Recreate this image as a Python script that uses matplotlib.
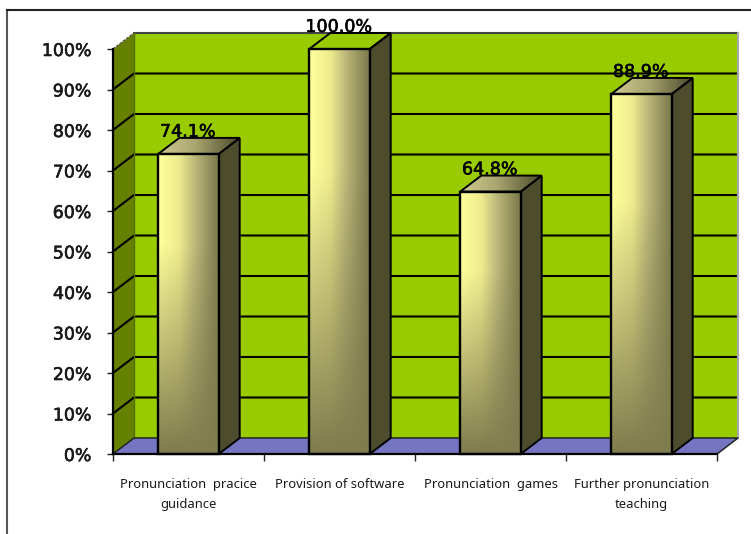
import numpy as np
import matplotlib
matplotlib.use("Agg")
import matplotlib.pyplot as plt
import matplotlib.patheffects as pe
from matplotlib.lines import Line2D
from matplotlib.patches import Polygon
from matplotlib.colors import to_rgb

categories = ["Pronunciation  pracice\nguidance", "Provision of software",
              "Pronunciation  games", "Further pronunciation\nteaching"]
values = [74.1, 100.0, 64.8, 88.9]
y_ticks = [0, 10, 20, 30, 40, 50, 60, 70, 80, 90, 100]

W, H = 751, 534
# depth of the fake 3d box, in data units (21 px across, 16 px up)
DX = 21 / 151
DY = 16 / 4.05
BAR_W = 0.4
BOLDISH = [pe.withStroke(linewidth=0.4, foreground="#111111")]


def h_ramp(stops, colors, n=100):
    u = np.linspace(0, 1, n)
    rgb = np.array([to_rgb(c) for c in colors])
    return np.stack([np.interp(u, stops, rgb[:, k]) for k in range(3)], axis=-1)


def front_face(n=100):
    # pale band on the left, fading to flat olive towards the bottom
    top = h_ramp([0, 0.35, 0.6, 1], ["#ffff9c", "#eeeb8e", "#bdb97a", "#7a774c"], n)
    base = np.array(to_rgb("#7f7c4e"))
    v = np.linspace(0, 1, n)
    w = np.clip((1 - v) / 0.7, 0, 1)[:, None, None]
    return top[None, :, :] * w + base[None, None, :] * (1 - w)


def draw_bar(ax, x0, val):
    x1 = x0 + BAR_W
    ax.imshow(front_face(), extent=(x0, x1, 0, val), aspect="auto", origin="upper", zorder=5,
              interpolation="bilinear")
    ax.add_patch(Polygon([(x0, 0), (x1, 0), (x1, val), (x0, val)], closed=True, fc="none", ec="black",
                         lw=1.7, zorder=6, clip_on=False))

    # side face
    ax.add_patch(Polygon([(x1, 0), (x1 + DX, DY), (x1 + DX, val + DY), (x1, val)], closed=True,
                         fc="#4d4d2e", ec="black", lw=1.4, zorder=4, clip_on=False))

    # top cap, gradient clipped to the parallelogram
    cap_pts = [(x0, val), (x1, val), (x1 + DX, val + DY), (x0 + DX, val + DY)]
    ramp = h_ramp([0, 0.45, 1], ["#cfcb90", "#aaa670", "#4a4a2c"])[None, :, :]
    cap = ax.imshow(ramp, extent=(x0, x1 + DX, val, val + DY), aspect="auto", origin="upper",
                    zorder=5, interpolation="bilinear")
    cap.set_clip_box(None)
    cap.set_clip_path(Polygon(cap_pts, closed=True, transform=ax.transData))
    ax.add_patch(Polygon(cap_pts, closed=True, fc="none", ec="black", lw=1.4, zorder=6, clip_on=False))


fig = plt.figure(figsize=(W / 100, H / 100), dpi=100, facecolor="white")
ax = fig.add_axes([113 / W, 1 - 454 / H, (717 - 113) / W, (454 - 49) / H])
ax.patch.set_visible(False)
for s in ax.spines.values():
    s.set_visible(False)

n = len(categories)

# walls and floor
ax.add_patch(Polygon([(DX, DY), (n + DX, DY), (n + DX, 100 + DY), (DX, 100 + DY)], closed=True,
                     fc="#99cc00", ec="none", zorder=1, clip_on=False))
ax.add_patch(Polygon([(0, 0), (DX, DY), (DX, 100 + DY), (0, 100)], closed=True,
                     fc="#668000", ec="none", zorder=1, clip_on=False))
ax.add_patch(Polygon([(0, 0), (n, 0), (n + DX, DY), (DX, DY)], closed=True,
                     fc="#7575c2", ec="none", zorder=2, clip_on=False))

# gridlines run along the side wall and then the back wall
for t in y_ticks[1:-1]:
    ax.plot([0, DX, n + DX], [t, t + DY, t + DY], color="black", lw=1.5, zorder=2, clip_on=False,
            solid_joinstyle="miter")
ax.plot([DX, n + DX], [100 + DY, 100 + DY], color="#444444", lw=1.5, zorder=2, clip_on=False)
ax.plot([0, DX], [100, 100 + DY], color="#555555", lw=1.0, ls=(0, (2, 1)), zorder=2, clip_on=False)
ax.plot([n + DX, n + DX], [DY, 100 + DY], color="#a8a8a8", lw=1.5, zorder=2, clip_on=False)
ax.plot([DX, DX], [DY, 100 + DY], color="#557000", lw=1.0, zorder=2, clip_on=False)
ax.plot([0, 0], [0, 100], color="black", lw=1.6, zorder=3, clip_on=False)
ax.plot([0, DX, n + DX, n], [0, DY, DY, 0], color="#222222", lw=1.1, zorder=3, clip_on=False)
ax.plot([0, n], [0, 0], color="black", lw=1.6, zorder=7, clip_on=False)

for i, v in enumerate(values):
    draw_bar(ax, i + 0.5 - BAR_W / 2, v)
    # labels sit under the bars so the caps can overlap them
    ax.annotate(f"{v:.1f}%", xy=(i + 0.5 - 0.005, v), xytext=(0, 12.3), textcoords="offset points",
                ha="center", va="baseline", fontsize=12.6, color="black", zorder=3.5,
                annotation_clip=False, path_effects=[pe.withStroke(linewidth=0.4, foreground="black")])

ax.set_xlim(0, n)
ax.set_ylim(0, 100)
ax.set_yticks(y_ticks)
ax.set_yticklabels([f"{t}%" for t in y_ticks], fontsize=12.5, color="#1a1a1a", path_effects=BOLDISH)
ax.set_xticks(np.arange(n + 1))
ax.set_xticklabels([])
ax.set_xticks(np.arange(n) + 0.5, minor=True)
ax.set_xticklabels(categories, minor=True, fontsize=9.35, color="#1a1a1a", linespacing=1.72,
                   family="Noto Sans")
ax.tick_params(axis="y", length=4.5, width=1.0, pad=11, color="#222222")
ax.tick_params(axis="x", which="major", length=5, width=1.0, color="#222222")
ax.tick_params(axis="x", which="minor", length=0, pad=17)

# frame of the chart area, cut off by the page on the right and below
fig.add_artist(Line2D([7 / W, 7 / W], [0, 1 - 10 / H], color="#555555", lw=1.5))
fig.add_artist(Line2D([7 / W, 1], [1 - 10 / H, 1 - 10 / H], color="#222222", lw=1.5))

fig.savefig("out.png", dpi=100)
